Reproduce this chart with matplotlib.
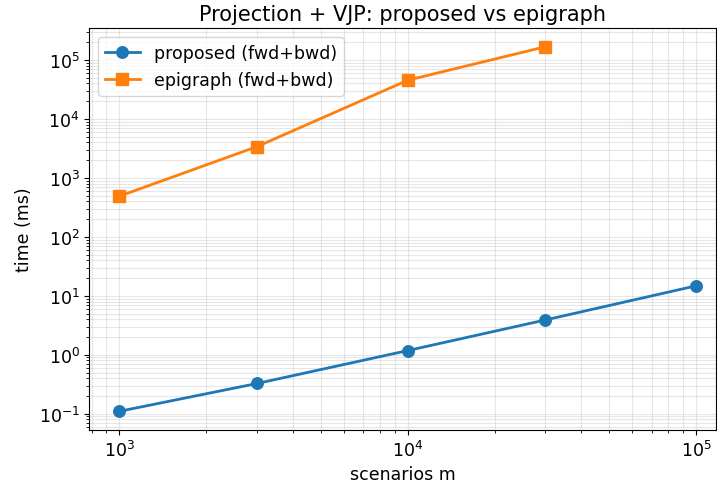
import matplotlib
matplotlib.use("Agg")
import matplotlib.pyplot as plt

m_proposed = [1e3, 3e3, 1e4, 3e4, 1e5]
t_proposed = [0.110, 0.326, 1.18, 3.9, 14.8]

m_epigraph = [1e3, 3e3, 1e4, 3e4]
t_epigraph = [490, 3400, 45500, 168000]

plt.rcParams['font.size'] = 12.5

fig = plt.figure(figsize=(7.17, 4.89), dpi=100)
ax = fig.add_axes([0.1248, 0.1192, 0.874, 0.8209])

ax.plot(m_proposed, t_proposed, marker='o', markersize=8.3, linewidth=2, label='proposed (fwd+bwd)')
ax.plot(m_epigraph, t_epigraph, marker='s', markersize=8.3, linewidth=2, label='epigraph (fwd+bwd)')

ax.set_xscale('log')
ax.set_yscale('log')
ax.set_xlim(10 ** 2.896, 10 ** 5.069)
ax.set_ylim(10 ** -1.271, 10 ** 5.538)

ax.set_xlabel('scenarios m')
ax.set_ylabel('time (ms)')
ax.set_title('Projection + VJP: proposed vs epigraph', fontsize=15)
ax.grid(True, which='both', alpha=0.3)
ax.legend(loc='upper left')

fig.savefig('out.png', dpi=100)
